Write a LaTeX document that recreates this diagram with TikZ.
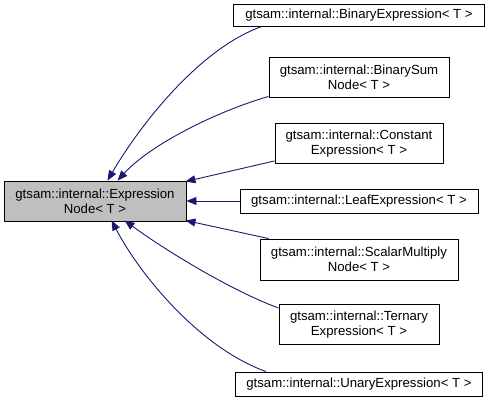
\documentclass[tikz,border=0pt]{standalone}
\usepackage{fontspec}
\setmainfont{Liberation Sans}
\usetikzlibrary{arrows.meta}
\definecolor{edgeblue}{HTML}{191970}
\definecolor{mainfill}{HTML}{BFBFBF}
\begin{document}
\begin{tikzpicture}[x=1pt,y=-1pt,
  cls/.style={draw=black,line width=0.9pt,fill=white,inner sep=0pt,align=center,
    font=\fontsize{13.2}{15}\selectfont,minimum height=23pt},
  cls2/.style={cls,minimum height=40pt},
  edge/.style={draw=edgeblue,line width=0.9pt,-{Triangle[length=10pt,width=8pt]}}]
\useasboundingbox (0,0) rectangle (491,403);
\node[cls2,fill=mainfill,minimum width=182pt] (main) at (95,201) {gtsam::internal::Expression\\Node< T >};
\node[cls,minimum width=251pt,minimum height=22pt] (be) at (359,15) {gtsam::internal::BinaryExpression< T >};
\node[cls2,minimum width=180pt] (bs) at (359,77) {gtsam::internal::BinarySum\\Node< T >};
\node[cls2,minimum width=168pt] (ce) at (359,143.5) {gtsam::internal::Constant\\Expression< T >};
\node[cls,minimum width=238pt,minimum height=24pt] (le) at (359,201) {gtsam::internal::LeafExpression< T >};
\node[cls2,minimum width=198pt,minimum height=41pt] (sm) at (359,259.5) {gtsam::internal::ScalarMultiply\\Node< T >};
\node[cls2,minimum width=160pt] (te) at (359,324.5) {gtsam::internal::Ternary\\Expression< T >};
\node[cls,minimum width=247pt,minimum height=24pt] (ue) at (359,384) {gtsam::internal::UnaryExpression< T >};

\draw[edge] ([xshift=29pt]be.south west) .. controls (200,48) and (140,125) .. ([xshift=104pt]main.north west);
\draw[edge] ([yshift=1pt]bs.south west) .. controls (215,112) and (150,145) .. ([xshift=114pt]main.north west);
\draw[edge] ([yshift=3pt]ce.south west) -- ([xshift=-1pt,yshift=-1pt]main.north east);
\draw[edge] (le.west) -- (main.east);
\draw[edge] ([xshift=9pt]sm.north west) -- ([xshift=-1pt,yshift=1pt]main.south east);
\draw[edge] ([yshift=-4pt]te.north west) .. controls (230,290) and (165,250) .. ([xshift=121pt,yshift=1pt]main.south west);
\draw[edge] ([xshift=31pt]ue.north west) .. controls (200,348) and (140,275) .. ([xshift=108pt,yshift=1pt]main.south west);
\end{tikzpicture}
\end{document}
